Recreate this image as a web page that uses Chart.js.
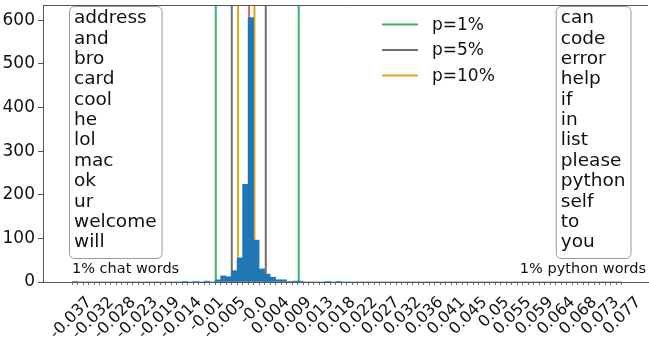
<!DOCTYPE html>
<html>
<head>
<meta charset="utf-8">
<script src="https://cdn.jsdelivr.net/npm/chart.js@4.4.0/dist/chart.umd.min.js"></script>
<style>
  html, body { margin: 0; padding: 0; background: #fff; }
  #wrap { width: 649px; height: 345px; }
</style>
</head>
<body>
<div id="wrap"><canvas id="chart" width="649" height="345"></canvas></div>
<script>
// histogram bins (100 bins starting at binStart)
const binStart = -0.037;
const binWidth = 0.00114;
const counts = [
  1, 0, 0, 0, 0, 0, 0, 0, 0, 0,
  0, 0, 0, 0, 0, 0, 0, 0, 0, 0,
  1, 0, 1, 0, 2, 0, 5, 14, 12, 26,
  55, 224, 606, 96, 30, 18, 11, 5, 5, 1,
  2, 2, 0, 0, 0, 0, 1, 0, 1, 0,
  0, 0, 0, 0, 0, 0, 0, 0, 0, 0,
  0, 0, 0, 0, 0, 0, 0, 0, 0, 0,
  0, 0, 0, 0, 0, 0, 0, 0, 0, 0,
  0, 0, 0, 0, 0, 0, 0, 0, 0, 0,
  0, 0, 0, 0, 0, 0, 0, 0, 0, 0
];
const tickLabels = ['-0.037', '-0.032', '-0.028', '-0.023', '-0.019', '-0.014', '-0.01', '-0.005', '-0.0',
  '0.004', '0.009', '0.013', '0.018', '0.022', '0.027', '0.032', '0.036', '0.041', '0.045', '0.05',
  '0.055', '0.059', '0.064', '0.068', '0.073', '0.077'];
const yTicks = [0, 100, 200, 300, 400, 500, 600];
const yMax = 635;
const xMin = -0.0431;
const xMax = 0.0825;

// threshold lines
const p1Lines = [-0.00723, 0.00999];
const p5Lines = [-0.00391, 0.00315];
const p10Lines = [-0.0026, 0.0008];
const centerLine = [-0.00032];

const chatWords = ['address', 'and', 'bro', 'card', 'cool', 'he', 'lol', 'mac', 'ok', 'ur', 'welcome', 'will'];
const pythonWords = ['can', 'code', 'error', 'help', 'if', 'in', 'list', 'please', 'python', 'self', 'to', 'you'];

const legendItems = [
  { label: 'p=1%', color: '#3cb371' },
  { label: 'p=5%', color: '#707070' },
  { label: 'p=10%', color: '#e3a521' }
];

Chart.defaults.font.family = "'DejaVu Sans', sans-serif";

const edges = [];
for (let k = 0; k <= counts.length; k++) edges.push(binStart + k * binWidth);

const barData = counts.map((c, i) => ({ x: binStart + (i + 0.5) * binWidth, y: c }));

function vlines(xs) {
  const d = [];
  xs.forEach((v, i) => {
    if (i > 0) d.push({ x: v, y: null });
    d.push({ x: v, y: 0 }, { x: v, y: yMax + 50 });
  });
  return d;
}

function lineSet(xs, color, width) {
  return {
    type: 'line', data: vlines(xs), borderColor: color, borderWidth: width,
    pointRadius: 0, fill: false, spanGaps: false, tension: 0
  };
}

const extras = {
  id: 'extras',
  afterDraw(chart) {
    const ctx = chart.ctx;
    const a = chart.chartArea;
    ctx.save();
    // top spine
    ctx.strokeStyle = '#555';
    ctx.lineWidth = 1;
    ctx.beginPath();
    ctx.moveTo(a.left, a.top + 0.5);
    ctx.lineTo(a.right, a.top + 0.5);
    ctx.stroke();

    // word boxes
    ctx.font = "18.5px 'DejaVu Sans'";
    ctx.textBaseline = 'middle';
    const lineH = 20.36;
    function box(words, x0, alignRight) {
      const w = Math.max(...words.map(t => ctx.measureText(t).width)) + 10;
      const left = alignRight ? x0 - w : x0;
      ctx.beginPath();
      ctx.roundRect(left, a.top + 1.5, w, 252, 5);
      ctx.fillStyle = '#fff';
      ctx.fill();
      ctx.strokeStyle = '#9a9a9a';
      ctx.lineWidth = 1;
      ctx.stroke();
      ctx.fillStyle = '#111';
      ctx.textAlign = 'left';
      words.forEach((t, i) => ctx.fillText(t, left + 4.5, a.top + 13.5 + i * lineH));
    }
    box(chatWords, 69.5, false);
    box(pythonWords, 631, true);

    ctx.font = "14.5px 'DejaVu Sans'";
    ctx.fillStyle = '#111';
    ctx.textAlign = 'left';
    ctx.fillText('1% chat words', 72, 269);
    ctx.textAlign = 'right';
    ctx.fillText('1% python words', 646, 269);

    // legend
    ctx.font = "17px 'DejaVu Sans'";
    ctx.textAlign = 'left';
    legendItems.forEach((it, i) => {
      const y = 24.5 + i * 25.5;
      ctx.strokeStyle = it.color;
      ctx.lineWidth = 2;
      ctx.beginPath();
      ctx.moveTo(382, y);
      ctx.lineTo(418, y);
      ctx.stroke();
      ctx.fillStyle = '#111';
      ctx.fillText(it.label, 432, y + 1);
    });
    ctx.restore();
  }
};

new Chart(document.getElementById('chart'), {
  type: 'bar',
  data: {
    datasets: [
      { type: 'bar', data: barData, backgroundColor: '#1f77b4', borderWidth: 0,
        barPercentage: 1, categoryPercentage: 1 },
      lineSet(p1Lines, legendItems[0].color, 2),
      lineSet(p5Lines, legendItems[1].color, 2),
      lineSet(p10Lines, legendItems[2].color, 2),
      lineSet(centerLine, 'rgba(225,40,40,0.95)', 1.5)
    ]
  },
  options: {
    responsive: false,
    animation: false,
    layout: { padding: { top: 5, right: 1, left: 0, bottom: 0 } },
    plugins: { legend: { display: false }, tooltip: { enabled: false } },
    scales: {
      x: {
        type: 'linear', min: xMin, max: xMax, offset: false,
        afterBuildTicks: s => { s.ticks = edges.map(v => ({ value: v })); },
        afterFit: s => { s.height = 63; s.paddingLeft = 0; s.paddingRight = 0; },
        grid: { drawOnChartArea: false, drawTicks: true, tickLength: 3, color: '#777', offset: false },
        border: { display: true, color: '#555' },
        ticks: {
          autoSkip: false, maxRotation: 45, minRotation: 45, labelOffset: 17, padding: 8,
          color: '#111', font: { size: 16 },
          callback: (v, i) => (i % 4 === 0 ? tickLabels[i / 4] : '')
        }
      },
      y: {
        min: 0, max: yMax,
        afterBuildTicks: s => { s.ticks = yTicks.map(v => ({ value: v })); },
        afterFit: s => { s.width = 43; s.paddingTop = 0; s.paddingBottom = 0; },
        grid: { drawOnChartArea: false, tickLength: 5, color: '#555' },
        border: { display: true, color: '#555' },
        ticks: { color: '#111', font: { size: 17 }, padding: 3 }
      }
    }
  },
  plugins: [extras]
});
</script>
</body>
</html>
